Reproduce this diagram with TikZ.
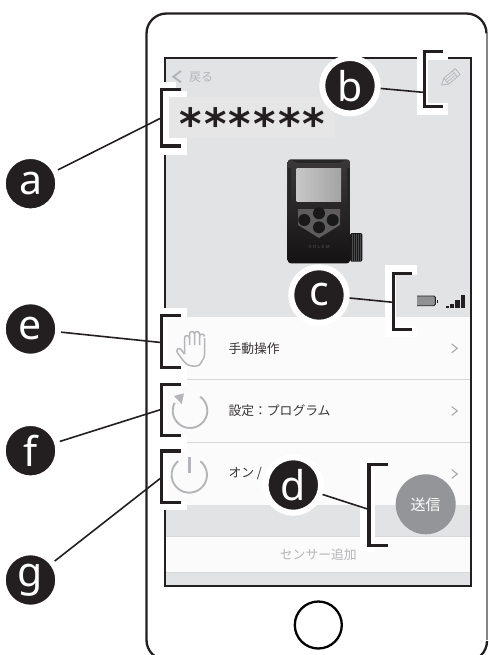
\documentclass[tikz,border=0pt]{standalone}
\usepackage{fontspec}
\setmainfont{Liberation Sans}
\newfontfamily\cjk{Noto Sans CJK JP}
\newfontfamily\lab{Noto Sans}
\newfontfamily\starf[LetterSpace=5]{DejaVu Sans}
\definecolor{ink}{HTML}{231F20}
\definecolor{scr}{HTML}{E2E3E5}
\definecolor{panel}{HTML}{E6E6E7}
\definecolor{rowc}{HTML}{FBFBFB}
\definecolor{sep}{HTML}{D6D7D9}
\definecolor{ico}{HTML}{B4B5B8}
\definecolor{chevc}{HTML}{A7A9AC}
\definecolor{btn}{HTML}{939598}
\definecolor{devtop}{HTML}{3A3839}
\definecolor{devmid}{HTML}{4A4849}
\definecolor{devbot}{HTML}{141213}
\tikzset{
 x=1pt,y=-1pt,
 badge/.style={circle,fill=ink,draw=white,line width=6pt,minimum size=55.5pt,inner sep=0pt,text=white,font=\lab\fontsize{41}{41}\selectfont},
 leader/.style={draw=ink,line width=1.6pt},
 brk/.style={draw=ink,line width=3.2pt,line cap=butt,line join=miter},
 rowtext/.style={font=\cjk\fontsize{12.8}{14}\selectfont,text=ink!90!white,anchor=west,inner sep=0pt},
 chev/.style={draw=chevc,line width=1.1pt},
 iconl/.style={draw=ico,line width=1.9pt},
 handl/.style={draw=ico,line width=1.5pt,line join=round},
}
\begin{document}
\begin{tikzpicture}
\useasboundingbox (0,0) rectangle (488,655);
\fill[white] (0,0) rectangle (488,655);
% phone
\draw[ink,line width=2.3pt] (146.5,640) -- (146.5,33.5) arc[start angle=180,end angle=270,radius=20] -- (466.5,13.5) arc[start angle=270,end angle=360,radius=20];
\draw[ink!55!white,line width=1.1pt] (487,33.5) -- (487,640);
\draw[ink,line width=2.3pt] (146.5,640) arc[start angle=180,end angle=90,radius=20];
\draw[ink,line width=2.3pt] (487,641) arc[start angle=0,end angle=90,radius=20];
% screen
\fill[scr] (165,58) rectangle (471,586);
\fill[rowc] (165,316.7) rectangle (470,505);
\fill[rowc] (165,537) rectangle (470,572.3);
\draw[sep,line width=1pt] (165,379.3) -- (470,379.3);
\draw[sep,line width=1pt] (165,442.7) -- (470,442.7);
\draw[sep,line width=1.4pt] (165,536.7) -- (470,536.7);
\draw[sep,line width=1.4pt] (165,572.3) -- (470,572.3);
\draw[ink,line width=2.5pt] (165,58) rectangle (471,586);
% home
\node[circle,draw=black,line width=2.3pt,fill=white,minimum size=47pt,inner sep=0pt] (home) at (318.3,625) {};
% header
\node[font=\cjk\fontsize{12}{14}\selectfont,text=ico,inner sep=0pt] (back) at (201,77.7) {戻る};
% stars panel
\fill[panel] (169,96.7) rectangle (335,138.3);
% device
\shade[top color=devtop,middle color=devmid,bottom color=devbot,rounded corners=3pt] (287.7,159.3) rectangle (350,263.3);
\fill[black!85!white] (291,159.8) -- (346,159.8) -- (339,163) -- (298,163) -- cycle;
\fill[black!85!white] (288.2,168) rectangle (290.5,212);
\fill[black!85!white] (347.2,168) rectangle (349.5,212);
\fill[black!90!white,rounded corners=1.5pt] (350,233) rectangle (362.3,261.7);
\foreach \kx in {352,354,356,358,360}{\draw[white!30!black,line width=.4pt] (\kx,234) -- (\kx,261);}
\shade[left color=white!78!black,right color=white!64!black] (296.7,168.3) rectangle (341,201);
\fill[white!27!ink] (298,209) -- (340,209) -- (340,225) -- (319,238) -- (298,225) -- cycle;
\foreach \cx/\cy in {319/213.3,304.3/220,332.7/220,319/227.3}{
 \fill[black!90!white] (\cx,\cy) circle[radius=6];
}
\node[font=\fontsize{4.5}{5}\selectfont\bfseries,text=white!25!black,inner sep=0pt] (brand) at (319,247) {S O L E M};
% battery and signal
\draw[ink,line width=.9pt,fill=ico!80!black,rounded corners=1.5pt] (414.6,296) rectangle (435.4,305.7);
\fill[ink] (436.8,299.5) rectangle (437.8,302.5);
\fill[ink] (445.7,307.8) rectangle (448.7,306);
\fill[ink] (450,307.8) rectangle (454,303.5);
\fill[ink] (455,307.8) rectangle (459.5,299.5);
\fill[ink] (461,307.8) rectangle (465,295);
% row texts
\node[rowtext] (t1) at (228.3,348.3) {手動操作};
\node[rowtext] (t2) at (228.3,411) {設定：プログラム};
\node[rowtext] (t3) at (228.3,474) {オン /};
\foreach \yy in {348.3,411,474}{\draw[chev] (451.7,\yy-4.4) -- (457.3,\yy) -- (451.7,\yy+4.4);}
\node[font=\cjk\fontsize{12.8}{14}\selectfont,text=ico,inner sep=0pt] (t4) at (318.3,555) {センサー追加};
% halos
\fill[white] (159,81.7) rectangle (186.7,155);
\fill[panel] (169,96.7) rectangle (186.7,138.3);
\fill[scr] (176,82) rectangle (186.7,91);
\draw[ico,line width=2pt] (181,71) -- (173.3,76.7) -- (181,82.3);
\fill[white] (416.7,47) rectangle (448,115);
\fill[scr] (428,60) rectangle (448,103);
\fill[white] (385,265) rectangle (416.7,337);
\fill[scr] (396,275) rectangle (416.7,316.7);
\fill[rowc] (396,316.7) rectangle (416.7,326);
\fill[white] (159,308) rectangle (186.7,510);
\fill[rowc] (168.3,316.7) rectangle (186.7,367);
\fill[rowc] (168.3,385) rectangle (186.7,435);
\fill[rowc] (168.3,452) rectangle (186.7,502);
\fill[white] (360,458) rectangle (375,552);
% pencil
\begin{scope}[shift={(450,78)},rotate=40]
\draw[ico,line width=.8pt,line join=round] (-5,-3.8) -- (10,-3.8) -- (10,3.8) -- (-5,3.8) -- (-11,0) -- cycle;
\draw[ico,line width=.6pt] (-5,-3.8) -- (-5,3.8) (6.5,-3.8) -- (6.5,3.8) (-5,-1.3) -- (6.5,-1.3) (-5,1.3) -- (6.5,1.3);
\end{scope}
% stars
\node[font=\starf\bfseries\fontsize{43}{43}\selectfont,text=ink,inner sep=0pt,anchor=center] (stars) at (252.5,124) {******};
% brackets
\draw[brk] (181,89.9) -- (161.6,89.9) -- (161.6,146.1) -- (181,146.1);
\draw[brk] (443,51.6) -- (424.6,51.6) -- (424.6,106.2) -- (443,106.2);
\draw[brk] (412,273.3) -- (393.3,273.3) -- (393.3,329.4) -- (412,329.4);
\draw[brk] (181,315.6) -- (161.6,315.6) -- (161.6,367.8) -- (181,367.8);
\draw[brk] (181,384.3) -- (161.6,384.3) -- (161.6,435.8) -- (181,435.8);
\draw[brk] (181,450.9) -- (161.6,450.9) -- (161.6,502.5) -- (181,502.5);
\draw[brk] (387.5,464.3) -- (368.9,464.3) -- (368.9,545.1) -- (387.5,545.1);
% hand icon
\draw[handl,rounded corners=2.5pt] (184.5,354) -- (179.5,347.5) -- (175.8,350.5) -- (185,363) -- (190,366) -- (199,366) -- (204.5,357) -- (204.5,338);
\draw[handl] (184.5,354) -- (184.5,338) arc[start angle=180,end angle=360,radius=2.5] -- (189.5,345);
\draw[handl] (189.5,338) -- (189.5,334) arc[start angle=180,end angle=360,radius=2.5] -- (194.5,345);
\draw[handl] (194.5,334) arc[start angle=180,end angle=360,radius=2.5] -- (199.5,345);
\draw[handl] (199.5,336.5) arc[start angle=180,end angle=360,radius=2.5];
% cycle icon
\draw[iconl] (200.2,396.7) arc[start angle=306,end angle=567,radius=17.3];
\fill[ico] (184,393.3) -- (174,396) -- (181.7,404) -- cycle;
% power icon
\draw[iconl] (200.4,461.2) arc[start angle=309,end angle=591,radius=17.7];
\draw[ico,line width=3.2pt] (189.3,456.7) -- (189.3,472.7);
% send button
\node[circle,fill=btn,minimum size=60pt,inner sep=0pt,text=white,font=\cjk\fontsize{15}{15}\selectfont] (send) at (425.7,504.3) {送信};
% badges
\node[badge] (a) at (30.5,183.7) {a};
\node[badge] (b) at (350,85.7) {b};
\node[badge] (c) at (319,295) {c};
\node[badge] (d) at (293.3,485) {d};
\node[badge] (e) at (30.5,329) {e};
\node[badge] (f) at (30.5,450.7) {f};
\node[badge] (g) at (30.5,580) {g};
\coordinate (ae) at (160,118.5);
\coordinate (be) at (423,92.3);
\coordinate (ce) at (392,302.2);
\coordinate (de) at (367.5,509);
\coordinate (ee) at (160,342.4);
\coordinate (fe) at (160,409.8);
\coordinate (ge) at (160,478.6);
\foreach \p/\q in {a/ae,b/be,c/ce,d/de,e/ee,f/fe,g/ge}{\draw[leader] (\p) -- (\q);}
\end{tikzpicture}
\end{document}
